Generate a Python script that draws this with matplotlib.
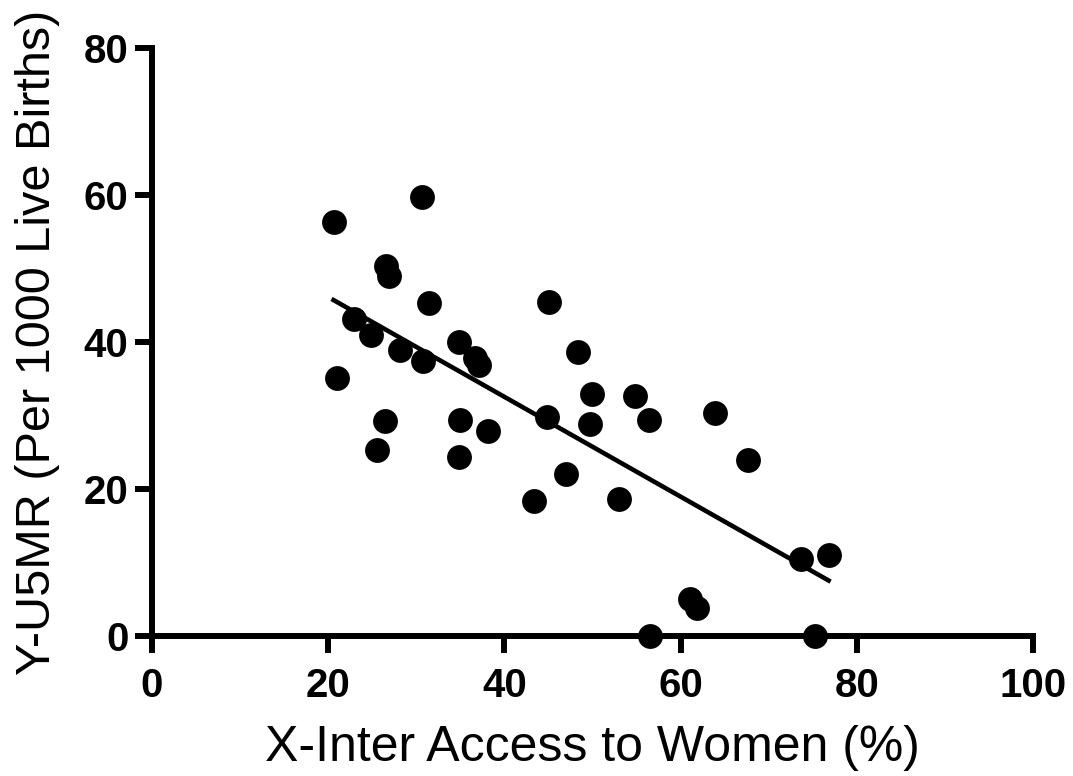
import matplotlib.pyplot as plt
import numpy as np

plt.rcParams['font.family'] = ['Liberation Sans', 'DejaVu Sans']

# access to women (%) and under-5 mortality per 1000 live births
access = [20.6, 30.6, 26.6, 26.9, 31.4, 22.9, 24.9, 28.2, 30.8, 34.8, 36.7, 37.1,
          21.0, 26.5, 25.5, 35.0, 38.1, 34.8, 45.1, 48.4, 49.9, 54.8, 44.8, 49.7,
          56.4, 63.9, 47.0, 43.4, 53.0, 67.7, 73.7, 76.8, 61.1, 61.9, 56.5, 75.3]
u5mr = [56.3, 59.7, 50.3, 49.0, 45.3, 43.2, 41.0, 38.9, 37.4, 40.0, 37.8, 36.9,
        35.1, 29.3, 25.3, 29.4, 27.9, 24.4, 45.5, 38.6, 32.9, 32.6, 29.8, 28.8,
        29.4, 30.3, 22.1, 18.4, 18.6, 23.9, 10.5, 11.0, 5.1, 3.8, 0.0, 0.0]

# regression line
fit_slope = -0.679
fit_intercept = 59.7

xticks = [0, 20, 40, 60, 80, 100]
yticks = [0, 20, 40, 60, 80]

fig = plt.figure(figsize=(10.73, 7.76), dpi=100)
ax = fig.add_axes([0.1417, 0.1804, 0.8210, 0.7577])

ax.scatter(access, u5mr, s=320, color='black', zorder=3, clip_on=False, linewidths=0)
fx = np.array([min(access), max(access)])
ax.plot(fx, fit_intercept + fit_slope * fx, color='black', lw=3.3, zorder=2)

ax.set_xlim(0, 100)
ax.set_ylim(0, 80)
ax.set_xticks(xticks)
ax.set_yticks(yticks)
for s in ['top', 'right']:
    ax.spines[s].set_visible(False)
for s in ['left', 'bottom']:
    ax.spines[s].set_linewidth(4.3)
ax.tick_params(width=4.3, length=12, direction='out', labelsize=29)
ax.tick_params(axis='x', pad=10)
ax.tick_params(axis='y', pad=5)
for lab in ax.get_xticklabels() + ax.get_yticklabels():
    lab.set_fontweight('bold')

ax.set_xlabel('X-Inter Access to Women (%)', fontsize=36)
ax.set_ylabel('Y-U5MR (Per 1000 Live Births)', fontsize=35)
ax.xaxis.set_label_coords(0.5, -0.152)
ax.yaxis.set_label_coords(-0.105, 0.5)

plt.savefig('out.png', dpi=100)
